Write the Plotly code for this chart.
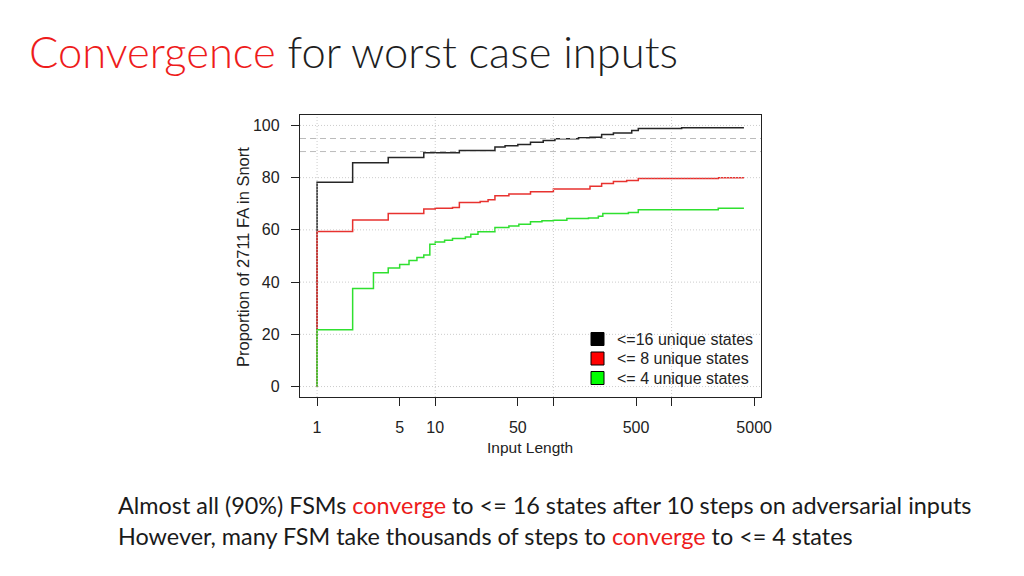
import math
import plotly.graph_objects as go

# ---- data ----
black_x = [1, 1, 2, 4, 8, 16, 32, 39, 50, 64, 82, 103, 163, 204, 256, 322, 460, 523, 1217, 4096]
black_y = [0, 78.2, 85.7, 87.7, 89.5, 90.4, 91.7, 92.2, 92.7, 93.6, 94.2, 94.9, 95.3, 95.5, 96.5, 97.1, 98.1, 98.8, 99.1, 99.1]

red_x = [1, 1, 2, 4, 8, 10, 14, 16, 24, 28, 32, 42, 64, 100, 204, 256, 322, 417, 523, 2483, 4096]
red_y = [0, 59.4, 63.8, 66.3, 68.0, 68.3, 68.6, 70.5, 70.9, 71.5, 73.1, 73.7, 74.6, 75.7, 76.7, 77.8, 78.5, 78.9, 79.7, 80.0, 80.0]

green_x = [1, 1, 2, 3, 4, 5, 6, 7, 8, 9, 10, 12, 14, 18, 20, 23, 32, 42, 51, 64, 80, 100, 130, 198, 240, 262, 431, 523, 2483, 4096]
green_y = [0, 21.8, 37.6, 43.6, 45.4, 46.7, 48.3, 49.4, 50.4, 54.5, 55.4, 56.0, 56.7, 57.3, 58.3, 59.3, 60.9, 61.5, 62.2, 63.1, 63.5, 63.7, 64.4, 64.6, 65.2, 66.3, 66.7, 67.7, 68.3, 68.3]

series_names = ["&lt;=16 unique states", "&lt;= 8 unique states", "&lt;= 4 unique states"]
series_colors = ["#262626", "#e8322f", "#2fe02f"]
legend_fill = ["#000000", "#ff0000", "#00ff00"]

x_tickvals = [1, 5, 10, 50, 100, 500, 1000, 5000]
x_ticktext = ["1", "5", "10", "50", "", "500", "", "5000"]
y_tickvals = [0, 20, 40, 60, 80, 100]
x_grid = [1, 10, 100, 1000]
y_grid = [0, 20, 40, 60, 80, 100]
ref_lines = [90, 95]

y_range = [-4, 104]
x_min_data, x_max_data = 1, 4096
pad = 0.04 * (math.log10(x_max_data) - math.log10(x_min_data))
x_range = [math.log10(x_min_data) - pad, math.log10(x_max_data) + pad]

AX_FONT = dict(family="Liberation Sans, Arial, sans-serif", size=16, color="#222222")

# page offset of the figure (browser body margin)
OFF = 8
FW, FH = 1024 - OFF, 576 - OFF
# plot box in page pixels
BOX_L, BOX_R, BOX_T, BOX_B = 300, 761, 115, 397
L, T = BOX_L - OFF, BOX_T - OFF
R, B = FW - (BOX_R - OFF), FH - (BOX_B - OFF)
PW, PH = BOX_R - BOX_L, BOX_B - BOX_T


def px(xp):
    return (xp - BOX_L) / PW


def py(yp):
    return (BOX_B - yp) / PH


fig = go.Figure()

for xs, ys, c in zip([black_x, red_x, green_x], [black_y, red_y, green_y], series_colors):
    fig.add_trace(go.Scatter(x=xs, y=ys, mode="lines", line=dict(color=c, width=1.5, shape="hv"),
                             showlegend=False, hoverinfo="skip"))

# vertical dotted grid drawn over the lines (as R's grid() does)
gx, gy = [], []
for v in x_grid:
    gx += [v, v, None]
    gy += [y_range[0], y_range[1], None]
fig.add_trace(go.Scatter(x=gx, y=gy, mode="lines", line=dict(color="#cccccc", width=1, dash="1px,2px"),
                         showlegend=False, hoverinfo="skip"))

shapes = []
for v in y_grid:
    shapes.append(dict(type="line", xref="paper", x0=0, x1=1, yref="y", y0=v, y1=v, layer="above",
                       line=dict(color="#cccccc", width=1, dash="1px,2px")))
for v in ref_lines:
    shapes.append(dict(type="line", xref="paper", x0=0, x1=1, yref="y", y0=v, y1=v, layer="above",
                       line=dict(color="#bbbbbb", width=1, dash="6px,4px")))

annotations = [
    dict(text="Input Length", x=px(530), y=py(447), xref="paper", yref="paper", showarrow=False,
         xanchor="center", yanchor="middle", font=dict(AX_FONT, size=15.5)),
    dict(text="Proportion of 2711 FA in Snort", x=px(243), y=py(257), xref="paper", yref="paper",
         showarrow=False, textangle=-90, xanchor="center", yanchor="middle", font=dict(AX_FONT, size=16.5)),
    dict(text="<span style='color:#ee1c1c'>Convergence</span> for worst case inputs",
         x=px(27), y=py(51), xref="paper", yref="paper", showarrow=False, xanchor="left", yanchor="middle",
         font=dict(family="Lato, sans-serif", size=43.5, color="#1e1e1e", weight=300)),
    dict(text="Almost all (90%) FSMs <span style='color:#ee1c1c'>converge</span> to &lt;= 16 states after 10 steps on adversarial inputs",
         x=px(116), y=py(505), xref="paper", yref="paper", showarrow=False, xanchor="left", yanchor="middle",
         font=dict(family="Lato, sans-serif", size=23.4, color="#1a1a1a")),
    dict(text="However, many FSM take thousands of steps to <span style='color:#ee1c1c'>converge</span> to &lt;= 4 states",
         x=px(116), y=py(536), xref="paper", yref="paper", showarrow=False, xanchor="left", yanchor="middle",
         font=dict(family="Lato, sans-serif", size=23.4, color="#1a1a1a")),
]

# legend (R style: filled squares, no box)
LEG_X_SQ, LEG_X_TXT = 597.5, 615
LEG_Y = [339, 358.5, 378]
SQ = 6.5
for name, fc, yc in zip(series_names, legend_fill, LEG_Y):
    shapes.append(dict(type="rect", xref="paper", yref="paper",
                       x0=px(LEG_X_SQ - SQ), x1=px(LEG_X_SQ + SQ), y0=py(yc + SQ), y1=py(yc - SQ),
                       fillcolor=fc, line=dict(color="black", width=1), layer="above"))
    annotations.append(dict(text=name, x=px(LEG_X_TXT), y=py(yc), xref="paper", yref="paper",
                            showarrow=False, xanchor="left", yanchor="middle", font=dict(AX_FONT, size=16)))

fig.update_layout(
    width=FW, height=FH,
    margin=dict(l=L, r=R, t=T, b=B, autoexpand=False),
    paper_bgcolor="white", plot_bgcolor="white",
    shapes=shapes, annotations=annotations,
    showlegend=False,
    xaxis=dict(type="log", range=x_range, tickvals=x_tickvals, ticktext=x_ticktext, ticks="outside",
               ticklen=8, tickcolor="#222", tickwidth=1.3, showgrid=False, zeroline=False, showline=True,
               mirror=True, linecolor="#222", linewidth=1.3, tickfont=AX_FONT, ticklabelstandoff=8),
    yaxis=dict(range=y_range, tickvals=y_tickvals, ticks="outside", ticklen=8, tickcolor="#222",
               tickwidth=1.3, showgrid=False, zeroline=False, showline=True, mirror=True, linecolor="#222",
               linewidth=1.3, tickfont=AX_FONT, ticklabelstandoff=8),
)

fig.write_html("out.html")
